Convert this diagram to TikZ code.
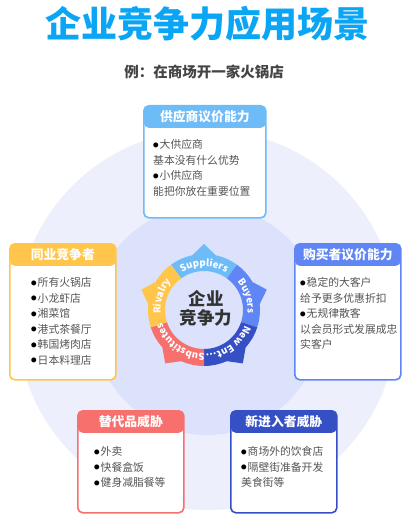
\documentclass[tikz,border=0pt]{standalone}
\usepackage{fontspec}
\newfontfamily\cjk{Noto Sans CJK SC}
\usepackage{tikz}
\usetikzlibrary{positioning,calc,decorations.text}
\usepackage{xcolor}

\definecolor{titlec}{HTML}{0AA6F5}
\definecolor{subtc}{HTML}{444444}
\definecolor{bodyc}{HTML}{555555}
\definecolor{corec}{HTML}{333333}
\definecolor{supc}{HTML}{6DBBF7}
\definecolor{buyc}{HTML}{5F86F4}
\definecolor{newc}{HTML}{3450C4}
\definecolor{subsc}{HTML}{F7706E}
\definecolor{rivc}{HTML}{FFC64B}
\definecolor{bgout}{HTML}{EDEFFD}
\definecolor{bgin}{HTML}{DCE2FB}

\newcommand{\bul}{\textcolor{black}{\raisebox{1.6pt}{\fontsize{5.5}{6}\selectfont ●}}\hspace{1pt}}
\newcommand{\wheelfont}{\cjk\bfseries\fontsize{9.6}{12}\selectfont\color{white}}

\begin{document}
\begin{tikzpicture}[x=1pt,y=1pt,
	card/.style={draw=#1, line width=1.6pt, fill=white, rounded corners=5pt, anchor=north west, inner sep=0pt,
		path picture={\fill[#1] (path picture bounding box.north west) rectangle ([yshift=-22pt]path picture bounding box.north east);}},
	head/.style={text=white, font=\cjk\bfseries\fontsize{12.8}{14}\selectfont, inner sep=0pt},
	body/.style={text=bodyc, font=\cjk\fontsize{10.8}{15.5}\selectfont, align=left, anchor=north west, inner sep=0pt},
	wheeltext/.style={decorate, decoration={text along path, text align=center, text={|\wheelfont|#1}}}]
	
	\useasboundingbox (0,0) rectangle (414,-524);
	\fill[white] (0,0) rectangle (414,-524);
	
	% title
	\node[font=\cjk\bfseries\fontsize{36}{36}\selectfont, text=titlec] (title) at (207,-23.5) {企业竞争力应用场景};
	\node[font=\cjk\bfseries\fontsize{14.5}{16}\selectfont, text=subtc] (subtitle) at (204,-72) {例：在商场开一家火锅店};
	
	% background rings
	\coordinate (bc) at (207,-320);
	\fill[bgout] (bc) circle[radius=190pt];
	\fill[bgin] (bc) circle[radius=115pt];
	
	% wheel
	\coordinate (wc) at (204,-310);
	\foreach \a/\col in {90/supc, 18/buyc, -54/newc, -126/subsc, 162/rivc}
	\fill[\col] ($(wc)+({\a+36}:39pt)$) -- ($(wc)+({\a+36}:56pt)$)
		arc[start angle=\a+36, end angle=\a+12, radius=56pt] -- ($(wc)+(\a:66pt)$)
		-- ($(wc)+({\a-12}:56pt)$) arc[start angle=\a-12, end angle=\a-36, radius=56pt]
		-- ($(wc)+({\a-36}:39pt)$) arc[start angle=\a-36, end angle=\a+36, radius=39pt] -- cycle;
	
	\path[wheeltext=Suppliers] ($(wc)+(150:43.5pt)$) arc[start angle=150, end angle=30, radius=43.5pt];
	\path[wheeltext=Buyers] ($(wc)+(78:43.5pt)$) arc[start angle=78, end angle=-42, radius=43.5pt];
	\path[wheeltext=New Ent…] ($(wc)+(6:43.5pt)$) arc[start angle=6, end angle=-114, radius=43.5pt];
	\path[wheeltext=Substitutes] ($(wc)+(-66:43.5pt)$) arc[start angle=-66, end angle=-186, radius=43.5pt];
	\path[wheeltext=Rivalry] ($(wc)+(-138:43.5pt)$) arc[start angle=-138, end angle=-258, radius=43.5pt];
	
	\node[font=\cjk\bfseries\fontsize{17.5}{19}\selectfont, text=corec, align=center] (core) at (206,-308.5) {企业\\竞争力};
	
	% suppliers
	\node[card=supc, minimum width=122pt, minimum height=112pt] (supbox) at (143,-105) {};
	\node[head] (suphd) at ([yshift=-12pt]supbox.north) {供应商议价能力};
	\node[body] (supbd) at ([shift={(10pt,-34.5pt)}]supbox.north west)
		{\bul 大供应商\\基本没有什么优势\\\bul 小供应商\\能把你放在重要位置};
	
	% rivalry
	\node[card=rivc, minimum width=106pt, minimum height=136pt] (rivbox) at (9,-243) {};
	\node[head] (rivhd) at ([yshift=-12pt]rivbox.north) {同业竞争者};
	\node[body] (rivbd) at ([shift={(22pt,-34.5pt)}]rivbox.north west)
		{\bul 所有火锅店\\\bul 小龙虾店\\\bul 湘菜馆\\\bul 港式茶餐厅\\\bul 韩国烤肉店\\\bul 日本料理店};
	
	% buyers
	\node[card=buyc, minimum width=106pt, minimum height=136pt] (buybox) at (294,-243) {};
	\node[head] (buyhd) at ([yshift=-12pt]buybox.north) {购买者议价能力};
	\node[body] (buybd) at ([shift={(6pt,-34.5pt)}]buybox.north west)
		{\bul 稳定的大客户\\给予更多优惠折扣\\\bul 无规律散客\\以会员形式发展成忠\\实客户};
	
	% substitutes
	\node[card=subsc, minimum width=106pt, minimum height=102pt] (subsbox) at (77,-410) {};
	\node[head] (subshd) at ([yshift=-12pt]subsbox.north) {替代品威胁};
	\node[body] (subsbd) at ([shift={(17pt,-36.5pt)}]subsbox.north west)
		{\bul 外卖\\\bul 快餐盒饭\\\bul 健身减脂餐等};
	
	% new entrants
	\node[card=newc, minimum width=106pt, minimum height=102pt] (newbox) at (230,-410) {};
	\node[head] (newhd) at ([yshift=-12pt]newbox.north) {新进入者威胁};
	\node[body] (newbd) at ([shift={(11pt,-36.5pt)}]newbox.north west)
		{\bul 商场外的饮食店\\\bul 隔壁街准备开发\\美食街等};
	
\end{tikzpicture}
\end{document}
